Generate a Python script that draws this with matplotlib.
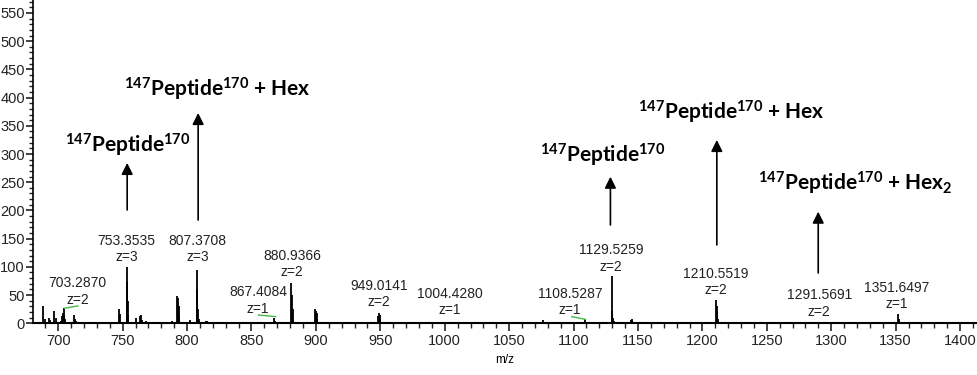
import numpy as np
import matplotlib
matplotlib.use("Agg")
import matplotlib.pyplot as plt
from matplotlib.ticker import MultipleLocator

plt.rcParams['font.family'] = 'Liberation Sans'
plt.rcParams['mathtext.fontset'] = 'custom'
plt.rcParams['mathtext.rm'] = 'Lato:bold'
plt.rcParams['mathtext.it'] = 'Lato:bold'
plt.rcParams['mathtext.bf'] = 'Lato:bold'

# centroid peaks (m/z, intensity)
peak_mz = [684.5, 688.5, 689.5, 692.5, 693.5, 697.0, 698.0, 702.0, 703.3, 703.8, 704.3, 704.8, 705.3,
           712.5, 713.0, 714.0, 722.0, 731.0, 740.0,
           747.5, 748.0, 753.35, 753.7, 754.0, 754.4, 760.5, 763.5, 764.5, 765.0, 768.0, 776.0, 788.0,
           792.5, 793.0, 793.5, 794.0, 802.5, 807.37, 807.87, 808.37, 808.9, 814.5, 815.5, 817.0, 829.0,
           845.0, 860.0, 867.4, 868.0, 880.94, 881.44, 881.94, 882.5,
           899.5, 900.0, 900.5, 901.0, 915.0, 926.0, 948.5, 949.0, 949.5, 950.0, 970.0, 985.0, 1004.4,
           1030.0, 1060.0, 1076.0, 1076.5, 1090.0, 1108.5, 1129.53, 1130.03, 1130.5, 1131.0,
           1144.5, 1145.0, 1145.5, 1170.0, 1190.0, 1210.55, 1211.05, 1211.55, 1212.0,
           1240.0, 1265.0, 1291.5, 1320.0, 1351.65, 1352.65, 1353.5, 1375.0, 1395.0]
peak_int = [3, 31, 8, 9, 6, 22, 10, 4, 12, 18, 27, 15, 8,
            14, 8, 4, 2, 2, 2,
            25, 17, 100, 74, 40, 15, 9, 12, 14, 6, 4, 2, 4,
            48, 44, 31, 15, 6, 95, 60, 25, 8, 4, 4, 3, 2,
            2, 3, 9, 4, 71, 50, 25, 8,
            25, 22, 18, 8, 2, 3, 12, 19, 15, 8, 2, 2, 3,
            2, 2, 6, 3, 2, 7, 83, 22, 10, 4,
            5, 7, 4, 2, 2, 41, 30, 20, 8,
            2, 2, 2, 2, 16, 8, 3, 2, 2]

# peak labels
lab_text = ["703.2870\nz=2", "753.3535\nz=3", "807.3708\nz=3", "867.4084\nz=1", "880.9366\nz=2",
            "949.0141\nz=2", "1004.4280\nz=1", "1108.5287\nz=1", "1129.5259\nz=2",
            "1210.5519\nz=2", "1291.5691\nz=2", "1351.6497\nz=1"]
lab_x = [715.1, 753.0, 808.0, 855.2, 881.6, 949.1, 1004.2, 1097.3, 1129.2, 1210.6, 1290.6, 1351.1]
lab_y = [56.4, 131.7, 131.7, 40.4, 105.0, 52.0, 37.8, 37.8, 114.9, 73.2, 35.1, 48.4]

# green leader lines (label -> peak)
lead_from = [(704.9, 26.6), (868.7, 11.7), (1109.0, 7.0)]
lead_to = [(715.3, 30.7), (855.3, 14.7), (1098.6, 11.7)]

# assignment labels with arrows
asg_text = [r"$^{147}$Peptide$^{170}$",
            r"$^{147}$Peptide$^{170}$ + Hex",
            r"$^{147}$Peptide$^{170}$",
            r"$^{147}$Peptide$^{170}$ + Hex",
            r"$^{147}$Peptide$^{170}$ + Hex$_{2}$"]
asg_x = [753.9, 823.4, 1122.9, 1222.3, 1318.5]
asg_y = [316.0, 415.0, 298.0, 374.0, 248.7]
arr_x = [753.5, 808.6, 1128.6, 1211.2, 1289.9]
arr_y0 = [200.8, 183.0, 174.2, 138.8, 89.2]
arr_y1 = [284.2, 372.7, 259.8, 324.9, 197.8]

fig = plt.figure(figsize=(9.78, 3.75), dpi=100)
ax = fig.add_axes([0.034, 0.138, 0.964, 0.862])

ax.vlines(peak_mz, 0, peak_int, color='black', lw=1.3)

for t, x, y in zip(lab_text, lab_x, lab_y):
    ax.text(x, y, t, ha='center', va='center', fontsize=10, color='#222222', linespacing=1.25)

for a, b in zip(lead_from, lead_to):
    ax.plot([a[0], b[0]], [a[1], b[1]], color='#44bb44', lw=1)

for t, x, y in zip(asg_text, asg_x, asg_y):
    ax.text(x, y, t, ha='center', va='center', fontsize=15, fontfamily='Lato', fontweight='bold')

for x, y0, y1 in zip(arr_x, arr_y0, arr_y1):
    ax.annotate('', xy=(x, y1), xytext=(x, y0),
                arrowprops=dict(arrowstyle='-|>', color='black', lw=1.2, mutation_scale=17,
                                shrinkA=0, shrinkB=0))

ax.set_xlim(680.6, 1412.4)
ax.set_ylim(0, 573)
ax.xaxis.set_major_locator(MultipleLocator(50))
ax.xaxis.set_minor_locator(MultipleLocator(10))
ax.yaxis.set_major_locator(MultipleLocator(50))
ax.yaxis.set_minor_locator(MultipleLocator(10))
ax.spines['top'].set_visible(False)
ax.spines['right'].set_visible(False)
ax.spines['left'].set_linewidth(1.2)
ax.spines['bottom'].set_linewidth(1.5)
ax.tick_params(which='major', width=1.2, labelsize=10.5, colors='#222222')
ax.tick_params(which='minor', width=1.0, colors='#222222')
ax.tick_params(axis='x', which='major', length=6, pad=2)
ax.tick_params(axis='x', which='minor', length=3.5)
ax.tick_params(axis='y', which='major', length=5, pad=1)
ax.tick_params(axis='y', which='minor', length=3)
ax.set_xlabel("m/z", fontsize=8.5, labelpad=4)

fig.savefig("out.png", dpi=100)
